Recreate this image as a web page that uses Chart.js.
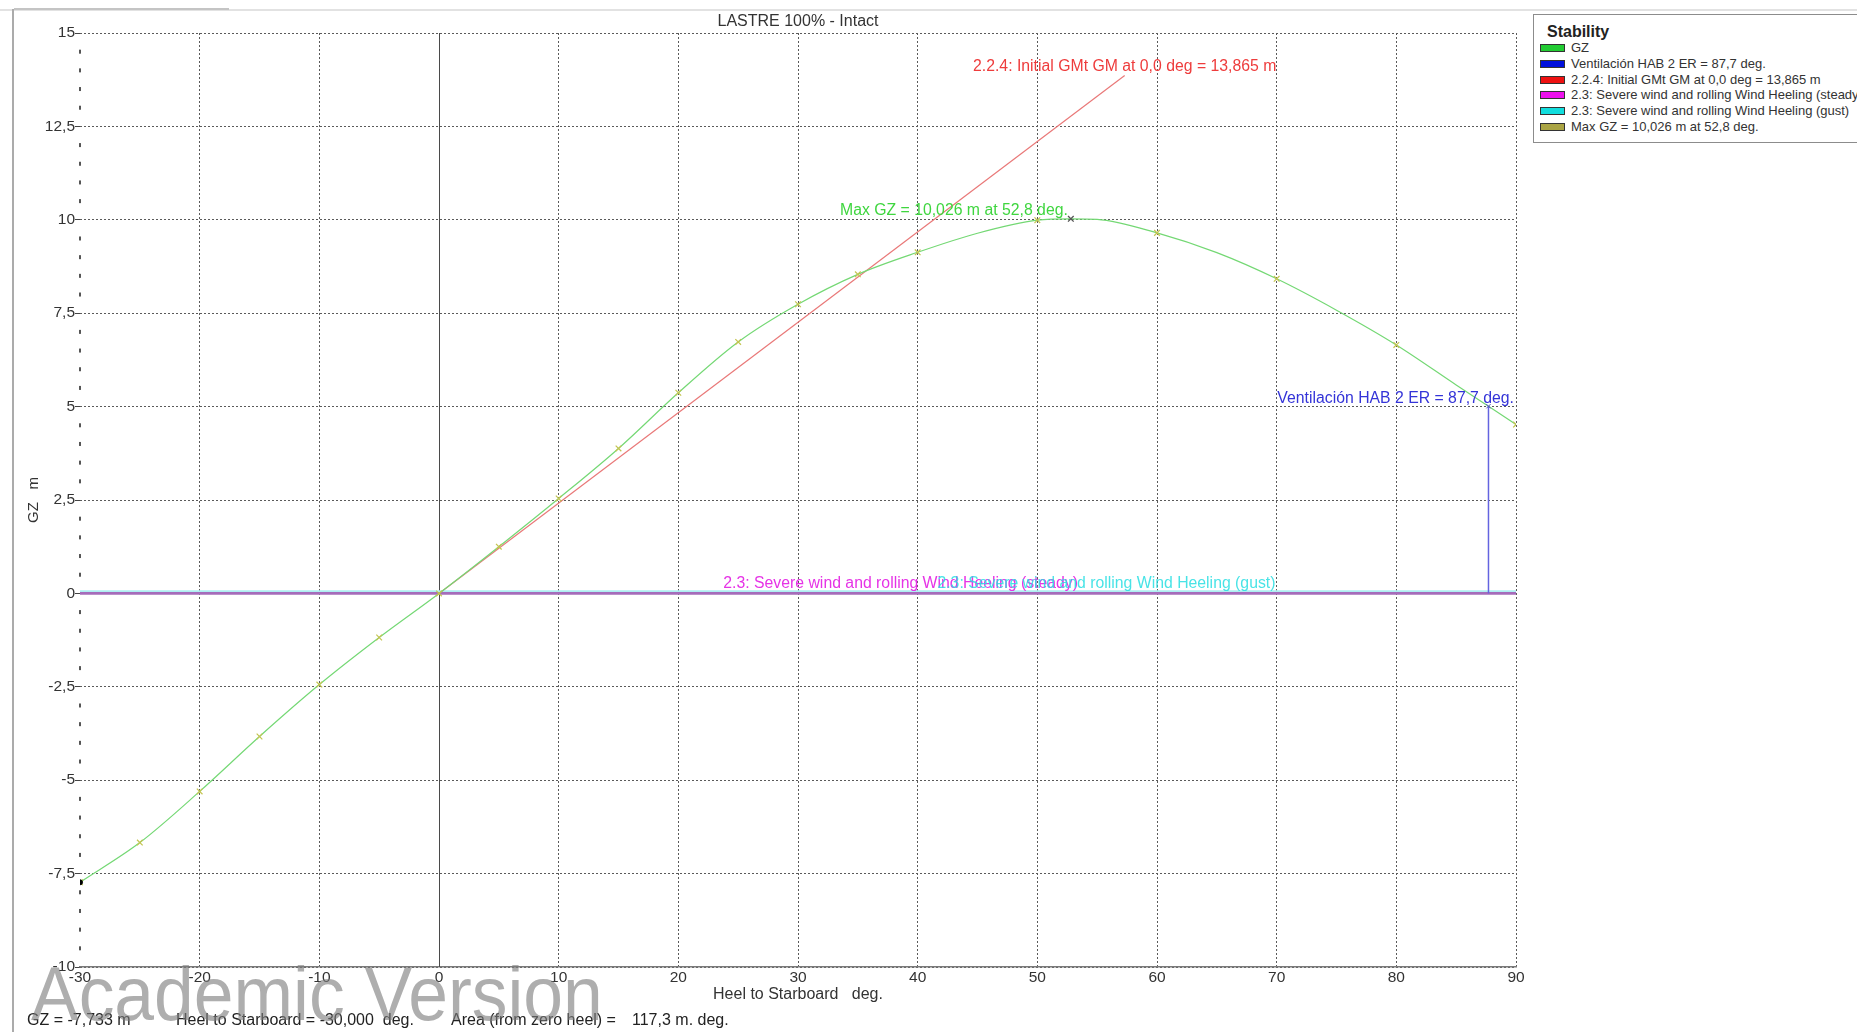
<!DOCTYPE html>
<html>
<head>
<meta charset="utf-8">
<script src="https://cdn.jsdelivr.net/npm/chart.js@4.4.0/dist/chart.umd.min.js"></script>
<style>
  html, body { margin:0; padding:0; background:#fff; width:1857px; height:1032px; overflow:hidden;
    font-family:"Liberation Sans", Arial, sans-serif; }
  #wrap { position:relative; width:1857px; height:1032px; overflow:hidden; }
  #chart { position:absolute; left:0; top:0; }
  .frameTop { position:absolute; left:0; top:9px; width:1857px; height:2px; background:#e2e2e2; }
  .frameTopDark { position:absolute; left:14px; top:8px; width:215px; height:2px; background:#c4c4c4; }
  .frameLeft { position:absolute; left:12px; top:9px; width:2px; height:1023px; background:#ababab; }
  #title { position:absolute; left:598px; top:11px; width:400px; text-align:center; font-size:16px;
    line-height:19px; color:#333; }
  #legend { position:absolute; left:1533px; top:14px; width:360px; height:127px; border:1px solid #8c8c8c;
    background:#fff; white-space:nowrap; }
  #legend .lt { position:absolute; left:13px; top:7px; font-weight:bold; font-size:16px; line-height:19px; color:#222; }
  #legend .row { position:absolute; left:6px; height:15px; line-height:15px; font-size:13px; color:#333; }
  #legend .sw { position:absolute; left:0; top:4px; width:23px; height:6px; border:1px solid #333; }
  #legend .tx { position:absolute; left:31px; top:0; }
  .status { position:absolute; top:1010px; font-size:16px; line-height:19px; color:#222; white-space:pre; }
  #watermark { position:absolute; left:31px; top:956px; font-size:76px; line-height:76px;
    color:rgba(125,125,125,0.62); white-space:nowrap; transform-origin:0 0; transform:scaleX(0.94); }
</style>
</head>
<body>
<div id="wrap">
  <canvas id="chart" width="1857" height="1032"></canvas>
  <div class="frameTop"></div>
  <div class="frameTopDark"></div>
  <div class="frameLeft"></div>
  <div id="title"></div>
  <div id="legend"></div>
  <div class="status" id="st1" style="left:27px;"></div>
  <div class="status" id="st2" style="left:176px;"></div>
  <div class="status" id="st3" style="left:451px;"></div>
  <div class="status" id="st4" style="left:632px;"></div>
  <div id="watermark">Academic Version</div>
</div>
<script>
// ---------------- DATA ----------------
const chartTitle = "LASTRE 100% - Intact";
const xAxisTitle = "Heel to Starboard   deg.";
const yAxisTitle = "GZ   m";
const legendTitle = "Stability";

// GZ curve (heel in degrees, GZ in metres)
const heelDeg  = [-30, -25, -20, -15, -10, -5, 0, 5, 10, 15, 20, 25, 30, 35, 40, 45, 50, 52.8, 55, 60, 65, 70, 75, 80, 85, 90];
const gzValues = [-7.733, -6.67, -5.30, -3.83, -2.44, -1.18, 0, 1.25, 2.54, 3.88, 5.37, 6.73, 7.74, 8.54, 9.13, 9.64, 9.99, 10.026, 10.01, 9.65, 9.12, 8.42, 7.58, 6.65, 5.58, 4.52];
// heel angles where the GZ curve carries a computed-point marker
const markedHeels = [-30, -25, -20, -15, -10, -5, 0, 5, 10, 15, 20, 25, 30, 35, 40, 50, 60, 70, 80, 90];

// Initial GMt line
const gmLineX = [0, 57.3];
const gmLineY = [0, 13.865];

// Ventilación HAB 2 ER downflooding angle
const ventX = [87.7, 87.7];
const ventY = [0, 5.01];

// Wind heeling levers
const steadyX = [-30, 90];
const steadyY = [0, 0];
const gustX = [-30, 90];
const gustY = [0.06, 0.06];

// Max GZ point
const maxX = [52.8];
const maxY = [10.026];

// cursor point
const cursorX = [-30];
const cursorY = [-7.733];

const seriesNames = [
  "GZ",
  "Ventilación HAB 2 ER = 87,7 deg.",
  "2.2.4: Initial GMt GM at 0,0 deg = 13,865 m",
  "2.3: Severe wind and rolling Wind Heeling (steady)",
  "2.3: Severe wind and rolling Wind Heeling (gust)",
  "Max GZ = 10,026 m at 52,8 deg."
];

const statusTexts = ["GZ = -7,733 m", "Heel to Starboard = -30,000  deg.", "Area (from zero heel) =", "117,3 m. deg."];

// ---------------- STYLES ----------------
const legendColors = ["#22cc33", "#0010dd", "#ee1111", "#ee11ee", "#11dddd", "#aaa444"];
const fontFam = '"Liberation Sans", Arial, sans-serif';

// ---------------- HTML TEXT ----------------
document.getElementById('title').textContent = chartTitle;
const lg = document.getElementById('legend');
const lt = document.createElement('div'); lt.className = 'lt'; lt.textContent = legendTitle; lg.appendChild(lt);
seriesNames.forEach((n, i) => {
  const r = document.createElement('div'); r.className = 'row'; r.style.top = (25 + i * 15.8) + 'px';
  const s = document.createElement('div'); s.className = 'sw'; s.style.background = legendColors[i];
  const t = document.createElement('div'); t.className = 'tx'; t.textContent = n;
  r.appendChild(s); r.appendChild(t); lg.appendChild(r);
});
['st1','st2','st3','st4'].forEach((id, i) => document.getElementById(id).textContent = statusTexts[i]);

const zip = (xs, ys) => xs.map((x, i) => ({x, y: ys[i]}));

// ---------------- PLUGIN ----------------
const annotations = [
  {text: seriesNames[2], x: gmLineX[1], y: gmLineY[1], align: 'center', dx: 0, dy: -9, color: '#ee3c3c'},
  {text: seriesNames[5], x: maxX[0], y: maxY[0], align: 'right', dx: -3, dy: -8, color: '#3fd63f'},
  {text: seriesNames[1], x: 90, y: ventY[1], align: 'right', dx: -2, dy: -8, color: '#3434d8'},
  {text: seriesNames[3], x: 53.4, y: 0, align: 'right', dx: 0, dy: -10, color: '#e633e6'},
  {text: seriesNames[4], x: 69.9, y: 0, align: 'right', dx: 0, dy: -10, color: 'rgba(40,222,226,0.85)'}
];

const overlayPlugin = {
  id: 'overlay',
  beforeDatasetsDraw(chart) {
    const {ctx, chartArea: a, scales: {x, y}} = chart;
    ctx.save();
    const px = Math.round(x.getPixelForValue(0)) + 0.5;
    ctx.strokeStyle = '#4a4a4a'; ctx.lineWidth = 1;
    ctx.beginPath(); ctx.moveTo(px, a.top); ctx.lineTo(px, a.bottom); ctx.stroke();
    ctx.fillStyle = '#555';
    for (let k = 0; k <= 50; k++) {
      if (k % 5 === 0) continue;
      const py = y.getPixelForValue(y.min + k * 0.5);
      ctx.fillRect(a.left - 1, py - 2, 2, 4);
    }
    ctx.restore();
  },
  afterDatasetsDraw(chart) {
    const {ctx, scales: {x, y}} = chart;
    ctx.save();
    ctx.font = '15.8px ' + fontFam;
    ctx.textBaseline = 'middle';
    annotations.forEach(an => {
      const px = x.getPixelForValue(an.x) + an.dx;
      const py = y.getPixelForValue(an.y) + an.dy;
      ctx.textAlign = an.align;
      ctx.fillStyle = an.color;
      ctx.fillText(an.text, px, py);
    });
    ctx.restore();
  }
};

const fmt = v => String(v).replace('.', ',');

new Chart(document.getElementById('chart'), {
  type: 'line',
  data: {
    datasets: [
      { label: 'cursor', data: zip(cursorX, cursorY), showLine: false, pointRadius: 2.5,
        pointBackgroundColor: '#000', pointBorderColor: '#000', order: 0 },
      { label: seriesNames[5], data: zip(maxX, maxY), showLine: false, pointStyle: 'crossRot',
        pointRadius: 4, pointBorderColor: '#555', pointBorderWidth: 1.3, order: 1 },
      { label: seriesNames[1], data: zip(ventX, ventY), borderColor: '#6464e0', borderWidth: 1.5,
        pointStyle: 'crossRot', pointRadius: [0, 3], pointBorderColor: '#5050c0', pointBorderWidth: 1, order: 2 },
      { label: seriesNames[0], data: zip(heelDeg, gzValues), borderColor: '#74d874', borderWidth: 1.2,
        cubicInterpolationMode: 'monotone', pointStyle: 'crossRot',
        pointRadius: ctx => (ctx.raw && markedHeels.includes(ctx.raw.x)) ? 4 : 0,
        pointBorderColor: '#c4c450', pointBorderWidth: 1.2, order: 3 },
      { label: seriesNames[2], data: zip(gmLineX, gmLineY), borderColor: '#e97878', borderWidth: 1.2,
        pointRadius: 0, order: 4 },
      { label: seriesNames[4], data: zip(gustX, gustY), borderColor: '#aeeef2', borderWidth: 2,
        pointRadius: 0, order: 6 },
      { label: seriesNames[3], data: zip(steadyX, steadyY), borderColor: '#a66cba', borderWidth: 2.8,
        pointRadius: 0, order: 5 }
    ]
  },
  options: {
    responsive: false,
    animation: false,
    devicePixelRatio: 1,
    layout: { padding: { left: 0, top: 33, right: 341, bottom: 25 } },
    plugins: { legend: { display: false }, title: { display: false }, tooltip: { enabled: false } },
    scales: {
      x: {
        type: 'linear', min: -30, max: 90,
        ticks: { stepSize: 10, padding: 1, color: '#333', font: { family: fontFam, size: 15.5 },
          callback: v => fmt(v), maxRotation: 0, autoSkip: false },
        grid: { drawTicks: false, lineWidth: 1,
          color: c => (c.tick && c.tick.value === -30) ? 'rgba(0,0,0,0)' : '#5a5a5a' },
        border: { display: true, color: '#7a7a7a', width: 1.5, dash: [2, 2] },
        title: { display: true, text: xAxisTitle, color: '#333', font: { family: fontFam, size: 16 },
          padding: { top: 0, bottom: 3 } },
        afterFit: s => { s.height = 40; }
      },
      y: {
        type: 'linear', min: -10, max: 15,
        ticks: { stepSize: 2.5, padding: 0, color: '#333', font: { family: fontFam, size: 15.5 },
          callback: v => fmt(v), autoSkip: false },
        grid: { drawTicks: true, tickLength: 5, tickColor: '#444', tickBorderDash: [], tickWidth: 1,
          lineWidth: 1, color: '#5a5a5a' },
        border: { display: false, dash: [2, 2] },
        title: { display: true, text: yAxisTitle, color: '#333', font: { family: fontFam, size: 15 },
          padding: { top: 25, bottom: 0 } },
        afterFit: s => { s.width = 80; }
      }
    }
  },
  plugins: [overlayPlugin]
});
</script>
</body>
</html>
